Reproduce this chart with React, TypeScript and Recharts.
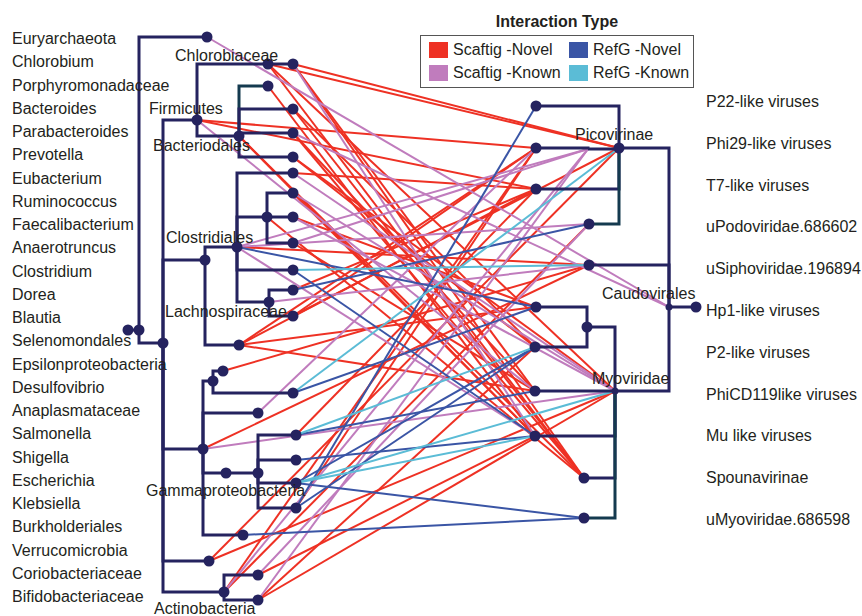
import React from 'react';
import { ComposedChart, XAxis, YAxis, Scatter, ReferenceLine, Legend } from 'recharts';

const W = 862;
const H = 616;
const FONT = '"Liberation Sans", Arial, Helvetica, sans-serif';
const INK = '#231f20';
const NAVY = '#25235f';
const TEAL = '#143a4f';

// leaf names down the left side (bacteria)
const hostNames = [
  'Euryarchaeota', 'Chlorobium', 'Porphyromonadaceae', 'Bacteroides', 'Parabacteroides', 'Prevotella',
  'Eubacterium', 'Ruminococcus', 'Faecalibacterium', 'Anaerotruncus', 'Clostridium', 'Dorea', 'Blautia',
  'Selenomondales', 'Epsilonproteobacteria', 'Desulfovibrio', 'Anaplasmataceae', 'Salmonella', 'Shigella',
  'Escherichia', 'Klebsiella', 'Burkholderiales', 'Verrucomicrobia', 'Coriobacteriaceae', 'Bifidobacteriaceae',
];

// leaf names down the right side (phages)
const phageNames = [
  'P22-like viruses', 'Phi29-like viruses', 'T7-like viruses', 'uPodoviridae.686602', 'uSiphoviridae.196894',
  'Hp1-like viruses', 'P2-like viruses', 'PhiCD119like viruses', 'Mu like viruses', 'Spounavirinae',
  'uMyoviridae.686598',
];

// host tree nodes: [id, x, y, parent]
const hostTree: [string, number, number, string | null][] = [
  ['root0', 128, 330, null],
  ['root1', 139, 330, 'root0'],
  ['L0', 207, 37, 'root1'],
  ['n163', 163, 343, 'root1'],
  ['L4', 197, 120, 'n163'],
  ['L1', 268, 64, 'L4'],
  ['L2', 293, 64, 'L1'],
  ['L6', 239, 136, 'L4'],
  ['L3', 268, 86, 'L6'],
  ['L5', 293, 109, 'L6'],
  ['L7', 293, 133, 'L6'],
  ['L8', 293, 157, 'L6'],
  ['L15', 205, 260, 'n163'],
  ['L14', 237, 247, 'L15'],
  ['L9', 293, 173, 'L14'],
  ['L11', 267, 217, 'L14'],
  ['L10', 293, 193, 'L11'],
  ['L12', 293, 217, 'L11'],
  ['L13', 293, 243, 'L11'],
  ['L16', 293, 270, 'L14'],
  ['L18', 269, 302, 'L14'],
  ['L17', 293, 290, 'L18'],
  ['L19', 293, 316, 'L18'],
  ['L20', 239, 345, 'L15'],
  ['L25', 203, 449, 'n163'],
  ['L22', 213, 381, 'L25'],
  ['L21', 223, 371, 'L22'],
  ['L23', 293, 393, 'L22'],
  ['L24', 258, 413, 'L25'],
  ['L26', 226, 473, 'L25'],
  ['L27', 258, 473, 'L26'],
  ['L28', 296, 435, 'L27'],
  ['L29', 296, 460, 'L27'],
  ['L30', 296, 483, 'L27'],
  ['L31', 296, 508, 'L27'],
  ['L32', 243, 535, 'L25'],
  ['L33', 209, 561, 'n163'],
  ['L34', 224, 592, 'n163'],
  ['L35', 258, 575, 'L34'],
  ['L36', 258, 600, 'L34'],
];

// phage tree nodes: [id, x, y, parent]
const phageTree: [string, number, number, string | null][] = [
  ['R15', 696, 307, null],
  ['R6', 669, 307, 'R15'],
  ['R2', 619, 148, 'R6'],
  ['R5', 589, 265, 'R6'],
  ['R10', 615, 391, 'R6'],
  ['R0', 536, 106, 'R2'],
  ['R1b', 588, 149, 'R2'],
  ['R1', 536, 148, 'R1b'],
  ['R3', 536, 189, 'R2'],
  ['R4', 589, 224, 'R2'],
  ['R8', 587, 327, 'R10'],
  ['R7', 536, 307, 'R8'],
  ['R9', 535, 347, 'R8'],
  ['R11', 535, 391, 'R10'],
  ['R12', 535, 436, 'R10'],
  ['R13', 584, 478, 'R10'],
  ['R14', 584, 518, 'R10'],
];

// clade names written beside internal nodes: [name, x, y]
const cladeLabels: [string, number, number][] = [
  ['Chlorobiaceae', 175, 55],
  ['Firmicutes', 149, 108],
  ['Bacteriodales', 153, 145],
  ['Clostridiales', 166, 237],
  ['Lachnospiraceae', 165, 311],
  ['Gammaproteobacteria', 146, 490],
  ['Actinobacteria', 154, 608],
  ['Picovirinae', 575, 134],
  ['Caudovirales', 602, 293],
  ['Myoviridae', 592, 378],
];

// interactions, one list per type: [host node, phage node]
const scaftigNovel: [string, string][] = [
  ['L1', 'R2'], ['L2', 'R2'], ['L1', 'R13'], ['L1', 'R10'], ['L2', 'R11'], ['L2', 'R13'], ['L3', 'R12'],
  ['L4', 'R1'], ['L4', 'R3'], ['L5', 'R13'], ['L5', 'R9'], ['L6', 'R12'], ['L6', 'R13'], ['L7', 'R11'],
  ['L7', 'R13'], ['L8', 'R10'], ['L8', 'R9'], ['L9', 'R3'], ['L10', 'R12'], ['L11', 'R13'], ['L12', 'R7'],
  ['L13', 'R11'], ['L14', 'R5'], ['L19', 'R1'], ['L19', 'R2'], ['L17', 'R3'], ['L20', 'R1'], ['L20', 'R3'],
  ['L20', 'R7'], ['L20', 'R11'], ['L21', 'R5'], ['L25', 'R5'], ['L33', 'R2'], ['L33', 'R10'], ['L34', 'R1'],
  ['L34', 'R4'], ['L35', 'R12'], ['L36', 'R10'], ['L36', 'R9'], ['L31', 'R1'], ['L28', 'R3'],
];
const scaftigKnown: [string, string][] = [
  ['L0', 'R6'], ['L2', 'R12'], ['L4', 'R11'], ['L7', 'R6'], ['L10', 'R10'], ['L13', 'R1b'], ['L14', 'R4'],
  ['L14', 'R12'], ['L14', 'R1b'], ['L18', 'R5'], ['L24', 'R1'], ['L25', 'R10'], ['L34', 'R1b'], ['L35', 'R4'],
  ['L36', 'R1b'], ['L12', 'R10'], ['L9', 'R10'],
];
const refgNovel: [string, string][] = [
  ['L31', 'R0'], ['L14', 'R7'], ['L16', 'R12'], ['L17', 'R4'], ['L23', 'R7'], ['L29', 'R12'], ['L30', 'R14'],
  ['L32', 'R14'], ['L31', 'R9'], ['L28', 'R11'], ['L30', 'R9'],
];
const refgKnown: [string, string][] = [
  ['L16', 'R5'], ['L23', 'R2'], ['L28', 'R9'], ['L30', 'R12'], ['L30', 'R10'],
];

const interactionNames = ['Scaftig -Novel', 'Scaftig -Known', 'RefG -Novel', 'RefG -Known'];
const interactionColors = ['#ee3124', '#c07cbd', '#3a55a5', '#5bbcd6'];
const interactionLists = [scaftigNovel, scaftigKnown, refgNovel, refgKnown];

const allNodes = [...hostTree, ...phageTree];
const nodeById: Record<string, { x: number; y: number }> = {};
allNodes.forEach(([id, x, y]) => {
  nodeById[id] = { x, y };
});

const tealEdges = ['L3', 'R4', 'R14'];
const noDot = ['R1b'];
const smallDot = ['R6', 'R10'];

// label axes: row index -> page position (first/last row)
const hostRowTop = 38;
const hostRowStep = 23.25;
const phageRowTop = 101;
const phageRowStep = 41.8;

const LegendBox = () => (
  <div style={{ fontFamily: FONT, color: INK }}>
    <div style={{ textAlign: 'center', fontWeight: 'bold', fontSize: 16, height: 19, lineHeight: '19px', marginBottom: 4 }}>
      Interaction Type
    </div>
    <div
      style={{
        border: '1px solid #555',
        display: 'grid',
        gridTemplateColumns: '140px 120px',
        padding: '3px 0 3px 8px',
        rowGap: 1,
      }}
    >
      {[0, 2, 1, 3].map((i) => (
        <div key={i} style={{ display: 'flex', alignItems: 'center', height: 22, fontSize: 16, whiteSpace: 'nowrap' }}>
          <span style={{ width: 19, height: 16, background: interactionColors[i], marginRight: 5, display: 'inline-block', flexShrink: 0 }} />
          {interactionNames[i]}
        </div>
      ))}
    </div>
  </div>
);

const textShape = (p: any) => (
  <text x={p.cx} y={p.cy} dy={6} fontSize={16} fill={INK} fontFamily={FONT}>
    {p.payload?.name ?? p.name}
  </text>
);

export default function App() {
  const hidden = () => <g />;

  const treeEdges = allNodes
    .filter(([, , , parent]) => parent !== null)
    .map(([id, x, y, parent]) => {
      const p = nodeById[parent as string];
      return {
        id,
        color: tealEdges.includes(id) ? TEAL : NAVY,
        pts: [
          { x: p.x, y: p.y },
          { x: p.x, y },
          { x, y },
        ],
      };
    });

  const dots = allNodes
    .filter(([id]) => !noDot.includes(id))
    .map(([id, x, y]) => ({ id, x, y, r: smallDot.includes(id) ? 3.5 : 5.5 }));

  const clades = cladeLabels.map(([name, x, y]) => ({ name, x, y }));
  const hostRows = hostNames.map((name, i) => ({ name, x: 12, row: i }));
  const phageRows = phageNames.map((name, i) => ({ name, x: 706, row: i }));

  return (
    <div style={{ position: 'absolute', left: 0, top: 0, background: '#fff' }}>
      <ComposedChart width={W} height={H} margin={{ top: 0, right: 0, bottom: 0, left: 0 }}>
        <XAxis type="number" dataKey="x" domain={[0, W]} hide />
        <YAxis type="number" dataKey="y" domain={[0, H]} reversed hide />
        <YAxis
          yAxisId="host"
          type="number"
          dataKey="row"
          domain={[-hostRowTop / hostRowStep, (H - hostRowTop) / hostRowStep]}
          allowDataOverflow
          reversed
          hide
        />
        <YAxis
          yAxisId="phage"
          type="number"
          dataKey="row"
          domain={[-phageRowTop / phageRowStep, (H - phageRowTop) / phageRowStep]}
          allowDataOverflow
          reversed
          hide
        />

        {treeEdges.map((e) => (
          <Scatter
            key={'t' + e.id}
            data={e.pts}
            line={{ stroke: e.color, strokeWidth: 3 }}
            shape={hidden}
            isAnimationActive={false}
            legendType="none"
          />
        ))}

        <Scatter
          data={dots}
          shape={(p: any) => <circle cx={p.cx} cy={p.cy} r={p.payload?.r ?? p.r ?? 5} fill={NAVY} />}
          isAnimationActive={false}
          legendType="none"
        />

        {interactionLists.map((list, t) =>
          list.map(([a, b], i) => {
            const p = nodeById[a];
            const q = nodeById[b];
            return (
              <ReferenceLine
                key={`l${t}-${i}`}
                segment={[
                  { x: p.x, y: p.y },
                  { x: q.x, y: q.y },
                ]}
                stroke={interactionColors[t]}
                strokeWidth={2}
                ifOverflow="visible"
              />
            );
          })
        )}

        <Scatter data={clades} shape={textShape} isAnimationActive={false} legendType="none" />
        <Scatter yAxisId="host" data={hostRows} shape={textShape} isAnimationActive={false} legendType="none" />
        <Scatter yAxisId="phage" data={phageRows} shape={textShape} isAnimationActive={false} legendType="none" />

        <Legend
          layout="horizontal"
          verticalAlign="middle"
          align="center"
          wrapperStyle={{ left: 420, top: 12, width: 274 }}
          content={() => <LegendBox />}
        />
      </ComposedChart>
    </div>
  );
}
